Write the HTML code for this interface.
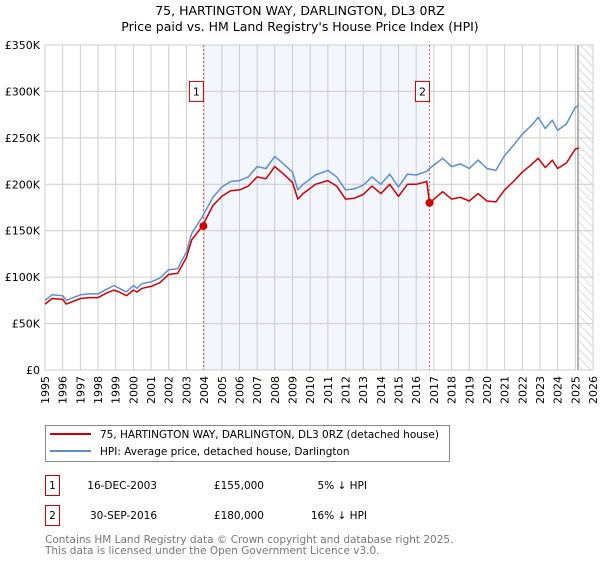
<!DOCTYPE html>
<html><head><meta charset="utf-8"><style>
body{margin:0;background:#fff;font-family:"DejaVu Sans","Liberation Sans",sans-serif;}
svg text{font-family:"DejaVu Sans","Liberation Sans",sans-serif;}
</style></head><body>
<svg id="chart" width="600" height="560" viewBox="0 0 600 560" xmlns="http://www.w3.org/2000/svg">
<defs><pattern id="hatch" width="6" height="6" patternUnits="userSpaceOnUse" patternTransform="rotate(-45)"><line x1="0" y1="0" x2="0" y2="6" stroke="#bbb" stroke-width="1"/></pattern></defs>
<text x="300" y="15" text-anchor="middle" font-size="12.5">75, HARTINGTON WAY, DARLINGTON, DL3 0RZ</text>
<text x="300" y="31" text-anchor="middle" font-size="12.5">Price paid vs. HM Land Registry's House Price Index (HPI)</text>
<g id="plot"></g>
<g>
<rect x="45.5" y="425.5" width="404" height="36" fill="#fff" stroke="#888"/>
<line x1="50" y1="434" x2="91" y2="434" stroke="#cc0000" stroke-width="2"/>
<text x="100" y="438" font-size="10.5">75, HARTINGTON WAY, DARLINGTON, DL3 0RZ (detached house)</text>
<line x1="50" y1="451" x2="91" y2="451" stroke="#5b8fd4" stroke-width="2"/>
<text x="100" y="455" font-size="10.5">HPI: Average price, detached house, Darlington</text>
</g>
<g font-size="10.5">
<rect x="45.5" y="475.5" width="14" height="20" fill="#fff" stroke="#cc0000"/>
<text x="52.5" y="489" text-anchor="middle">1</text>
<text x="157" y="489" text-anchor="end">16-DEC-2003</text>
<text x="264" y="489" text-anchor="end">£155,000</text>
<text x="367" y="489" text-anchor="end">5% ↓ HPI</text>
</g>
<g font-size="10.5">
<rect x="45.5" y="505.5" width="14" height="20" fill="#fff" stroke="#cc0000"/>
<text x="52.5" y="519" text-anchor="middle">2</text>
<text x="157" y="519" text-anchor="end">30-SEP-2016</text>
<text x="264" y="519" text-anchor="end">£180,000</text>
<text x="367" y="519" text-anchor="end">16% ↓ HPI</text>
</g>
<text x="45" y="543" font-size="10.5" fill="#777">Contains HM Land Registry data © Crown copyright and database right 2025.</text>
<text x="45" y="554" font-size="10.5" fill="#777">This data is licensed under the Open Government Licence v3.0.</text>
</svg>
<script>
const hpiYears=[1995,1995.4,1996,1996.2,1997,1997.5,1998,1998.5,1998.9,1999.2,1999.6,2000,2000.2,2000.5,2001,2001.5,2002,2002.5,2003,2003.3,2003.9,2004.5,2005,2005.5,2006,2006.5,2007,2007.5,2008,2008.5,2009,2009.3,2009.6,2010.3,2011,2011.5,2012,2012.5,2013,2013.5,2014,2014.5,2015,2015.5,2016,2016.6,2016.75,2017.5,2018,2018.5,2019,2019.5,2020,2020.5,2021,2021.5,2022,2022.5,2022.9,2023.3,2023.7,2024,2024.5,2025,2025.2];
const hpiValues=[75,81,80,75,81,82,82,87,91,88,84,91,88,93,95,99,108,109,127,147,165,186,197,203,204,208,219,217,230,222,213,194,200,210,215,208,194,195,199,208,200,211,197,211,210,214,217,228,219,222,217,226,217,215,231,242,254,263,272,260,269,258,265,283,285];
const priceValues=[71,77,76,71,77,78,78,83,86,84,80,86,84,88,90,94,103,104,121,140,155,177,187,193,194,198,208,206,219,211,202,184,190,200,204,198,184,185,189,198,190,200,187,200,200,203,180,192,184,186,182,190,182,181,194,203,213,221,228,218,226,217,223,238,239];
const yTicks=[0,50,100,150,200,250,300,350];
const yTickLabels=["£0","£50K","£100K","£150K","£200K","£250K","£300K","£350K"];
const xTicks=[1995,1996,1997,1998,1999,2000,2001,2002,2003,2004,2005,2006,2007,2008,2009,2010,2011,2012,2013,2014,2015,2016,2017,2018,2019,2020,2021,2022,2023,2024,2025,2026];
const saleYears=[2003.96,2016.75];
const salePrices=[155,180];
const saleLabels=["1","2"];
const dataEnd=2025.15;

const L=45,R=593,T=45,B=370;
const xs=y=>L+(y-1995)/(2026-1995)*(R-L);
const ys=v=>B-v/350*(B-T);
const NS="http://www.w3.org/2000/svg";
const g=document.getElementById('plot');
function mk(tag,attrs,parent){const e=document.createElementNS(NS,tag);for(const k in attrs)e.setAttribute(k,attrs[k]);(parent||g).appendChild(e);return e;}

let bg=mk('rect',{x:L,y:T,width:R-L,height:B-T,fill:'#fff'});


let sh=mk('rect',{x:xs(saleYears[0]),y:T,width:xs(saleYears[1])-xs(saleYears[0]),height:B-T,fill:'#eef2fc',opacity:0.7});


let ht=mk('rect',{x:xs(dataEnd),y:T,width:R-xs(dataEnd),height:B-T,fill:'url(#hatch)'});


xTicks.forEach(t=>{let l=mk('line',{x1:xs(t),x2:xs(t),y1:T,y2:B,stroke:'#ccc','stroke-width':1});


let tx=mk('text',{x:0,y:0,'font-size':11,'text-anchor':'end',transform:`translate(${xs(t)+4},${B+6}) rotate(-90)`});tx.textContent=t;

});
yTicks.forEach((t,i)=>{let l=mk('line',{x1:L,x2:R,y1:ys(t),y2:ys(t),stroke:'#ccc','stroke-width':1});


let tx=mk('text',{x:L-5,y:ys(t)+4,'font-size':11,'text-anchor':'end'});tx.textContent=yTickLabels[i];

});
let de=mk('line',{x1:xs(dataEnd),x2:xs(dataEnd),y1:T,y2:B,stroke:'#999','stroke-width':1.5});


let fr=mk('rect',{x:L,y:T,width:R-L,height:B-T,fill:'none',stroke:'#ccc'});


saleYears.forEach((s,i)=>{let l=mk('line',{x1:xs(s),x2:xs(s),y1:T,y2:B,stroke:'#e06060','stroke-dasharray':'2,2','stroke-width':1});


let r=mk('rect',{x:xs(s)-14,y:ys(300)-10,width:14,height:20,fill:'#fff',stroke:'#cc0000'});


let t=mk('text',{x:xs(s)-7,y:ys(300)+4,'font-size':11,'text-anchor':'middle'});t.textContent=saleLabels[i];

});
function line(vals,color,name){let d=hpiYears.map((y,i)=>(i?'L':'M')+xs(y).toFixed(1)+','+ys(vals[i]).toFixed(1)).join('');
let p=mk('path',{d,fill:'none',stroke:color,'stroke-width':1.5,'stroke-linejoin':'round'});

}
line(hpiValues,'#5b8fd4','hpi-line');
line(priceValues,'#cc0000','price-line');
saleYears.forEach((s,i)=>{let c=mk('circle',{cx:xs(s),cy:ys(salePrices[i]),r:4,fill:'#cc0000'});

});
</script>
</body></html>
